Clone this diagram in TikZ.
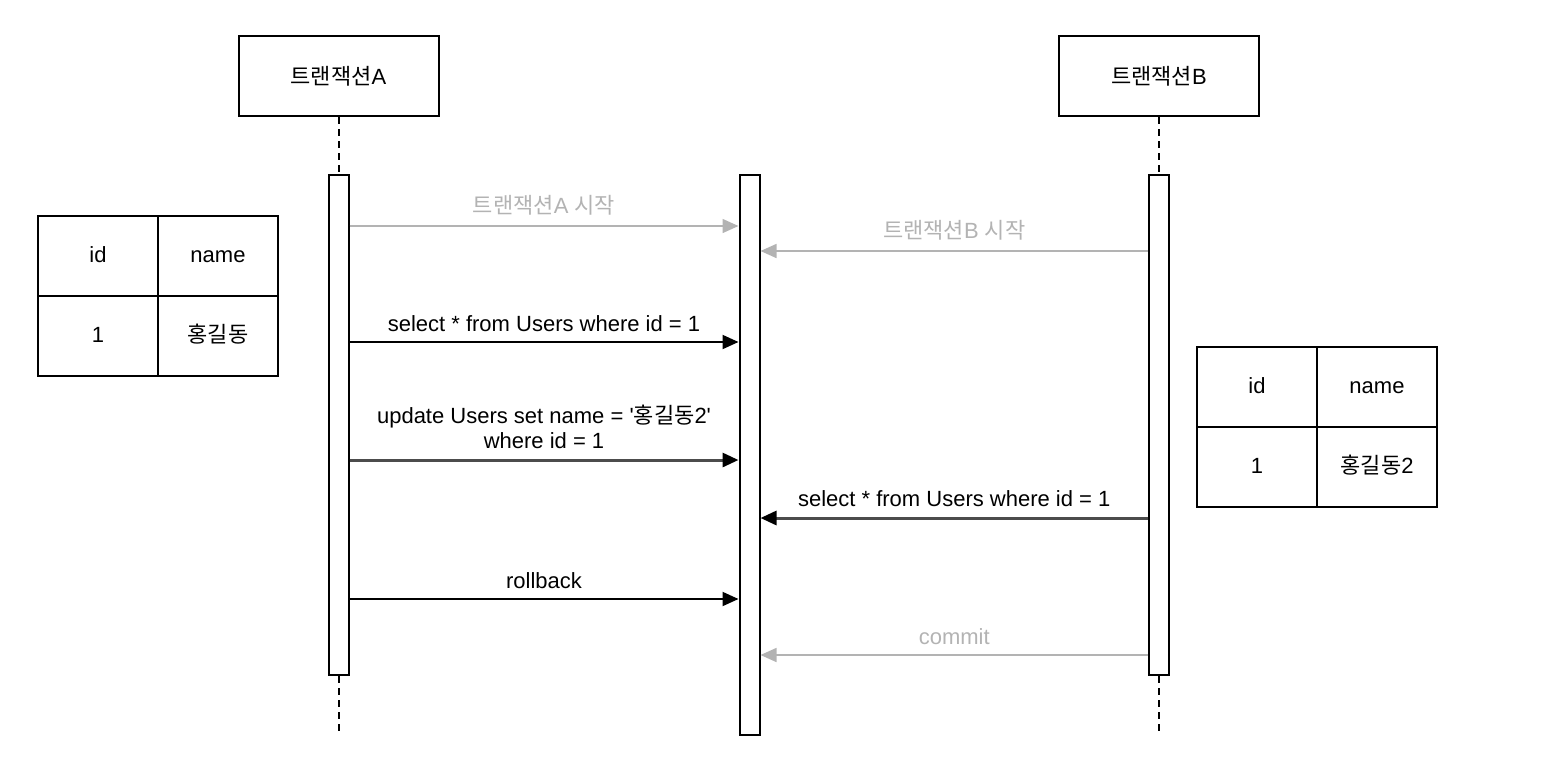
\documentclass[tikz,border=0pt]{standalone}
\usepackage{fontspec}
\setmainfont{Liberation Sans}
\newfontfamily\kr{Noto Sans CJK KR}
\usepackage{xcolor}
\usetikzlibrary{arrows.meta, positioning}

\definecolor{msggray}{RGB}{179,179,179}

\tikzset{
    actor/.style={draw, line width=1pt, minimum width=100pt, minimum height=40pt, inner sep=0pt},
    bar/.style={draw, fill=white, line width=1pt, minimum width=10pt, inner sep=0pt},
    cell/.style={draw, line width=1pt, minimum width=60pt, minimum height=40pt, inner sep=0pt, outer sep=0pt, text height=8pt, text depth=2pt},
    life/.style={line width=1pt, dash pattern=on 3.5pt off 2.5pt},
    msg/.style={-{Triangle[length=8pt, width=7pt]}, line width=1pt},
    msgfaint/.style={-{Triangle[length=8pt, width=7pt]}, draw=msggray, text=msggray, line width=0.75pt},
    msgbold/.style={-{Triangle[length=8pt, width=7pt, color=black]}, draw=black!70, line width=1.5pt}
}

\begin{document}
\begin{tikzpicture}[x=0.5pt, y=-0.5pt, font=\fontsize{11}{12.5}\selectfont]
    \useasboundingbox (0,0) rectangle (1544,762);

    % Transactions
    \node[actor] (txA) at (338.5,76) {{\kr 트랜잭션}A};
    \node[actor] (txB) at (1159,76) {{\kr 트랜잭션}B};

    % Activation bars
    \node[bar, minimum height=250pt] (barA) at (338.5,425) {};
    \node[bar, minimum height=280pt] (barM) at (749.5,455) {};
    \node[bar, minimum height=250pt] (barB) at (1159,425) {};

    % Lifelines
    \coordinate (endA) at (338.5,735);
    \coordinate (endB) at (1159,735);
    \draw[life] (txA) -- (barA);
    \draw[life] (barA) -- (endA);
    \draw[life] (txB) -- (barB);
    \draw[life] (barB) -- (endB);

    % Message rows
    \coordinate (m1) at (0,226);
    \coordinate (m2) at (0,251);
    \coordinate (m3) at (0,342);
    \coordinate (m4) at (0,460);
    \coordinate (m5) at (0,518);
    \coordinate (m6) at (0,599);
    \coordinate (m7) at (0,655);

    % Messages
    \draw[msgfaint] (barA.east |- m1) -- node[above=1.5pt] {{\kr 트랜잭션}A {\kr 시작}} (barM.west |- m1);
    \draw[msgfaint] (barB.west |- m2) -- node[above=1.5pt] {{\kr 트랜잭션}B {\kr 시작}} (barM.east |- m2);
    \draw[msg] (barA.east |- m3) -- node[above=1.5pt] {select * from Users where id = 1} (barM.west |- m3);
    \draw[msgbold] (barA.east |- m4) -- node[above=1.5pt, align=center] {update Users set name = \textquotesingle{\kr 홍길동}2\textquotesingle\\where id = 1} (barM.west |- m4);
    \draw[msgbold] (barB.west |- m5) -- node[above=1.5pt] {select * from Users where id = 1} (barM.east |- m5);
    \draw[msg] (barA.east |- m6) -- node[above=1.5pt] {rollback} (barM.west |- m6);
    \draw[msgfaint] (barB.west |- m7) -- node[above=1.5pt] {commit} (barM.east |- m7);

    % Table before update
    \node[cell] (idA) at (98,256) {id};
    \node[cell, right=0pt of idA] (nameA) {name};
    \node[cell, below=0pt of idA] (valA) {1};
    \node[cell, right=0pt of valA] (valnameA) {{\kr 홍길동}};

    % Table after update
    \node[cell] (idB) at (1257,387) {id};
    \node[cell, right=0pt of idB] (nameB) {name};
    \node[cell, below=0pt of idB] (valB) {1};
    \node[cell, right=0pt of valB] (valnameB) {{\kr 홍길동}2};
\end{tikzpicture}
\end{document}
